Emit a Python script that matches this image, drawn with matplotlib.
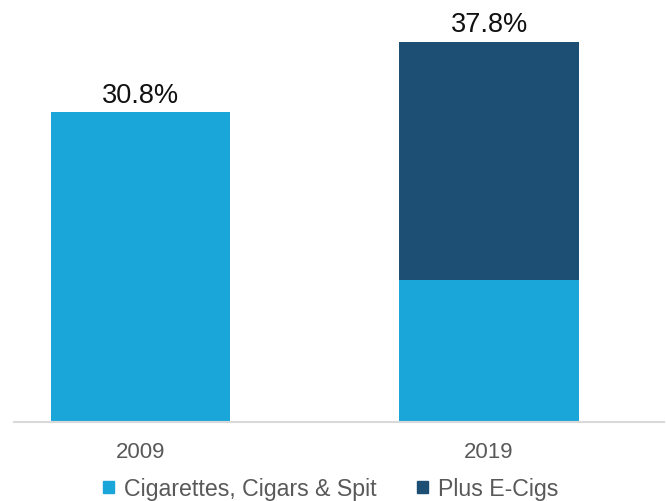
import matplotlib.pyplot as plt
from matplotlib.patches import Patch

plt.rcParams['font.family'] = ['Liberation Sans', 'DejaVu Sans']

years = ['2009', '2019']
base_vals = [30.8, 14.1]        # cigarettes, cigars & spit
ecig_vals = [0.0, 23.7]         # added by e-cigs
total_labels = ['30.8%', '37.8%']
series_names = ['Cigarettes, Cigars & Spit', 'Plus E-Cigs']

light_blue = '#1BA6DA'
dark_blue = '#1D4F74'

fig = plt.figure(figsize=(6.66, 5.02), dpi=100)
ax = fig.add_axes([14 / 666, 79.5 / 502, 650 / 666, 422.5 / 502])

x = [0, 1]
width = 0.514
ax.bar(x, base_vals, width, color=light_blue)
ax.bar(x, ecig_vals, width, bottom=base_vals, color=dark_blue)

for xi, b, e, lab in zip(x, base_vals, ecig_vals, total_labels):
    ax.annotate(lab, (xi, b + e), xytext=(0, 7.5), textcoords='offset points',
                ha='center', va='baseline', fontsize=19.5, color='#111111')

ax.set_xlim(-0.363, 1.502)
ax.set_ylim(0, 42.04)
ax.set_xticks(x)
ax.set_xticklabels(years, fontsize=16, color='#595959')
ax.tick_params(axis='x', length=0, pad=14)
ax.set_yticks([])
for side in ['top', 'right', 'left']:
    ax.spines[side].set_visible(False)
ax.spines['bottom'].set_color('#d9d9d9')
ax.spines['bottom'].set_linewidth(1.5)

handles = [Patch(color=light_blue), Patch(color=dark_blue)]
fig.legend(handles, series_names, loc='center', bbox_to_anchor=(0.497, 0.024),
           ncol=2, frameon=False, fontsize=16.7, labelcolor='#595959',
           handlelength=0.45, handleheight=0.45, handletextpad=0.45,
           columnspacing=1.75, borderpad=0, borderaxespad=0)

fig.savefig('out.png', dpi=100)
